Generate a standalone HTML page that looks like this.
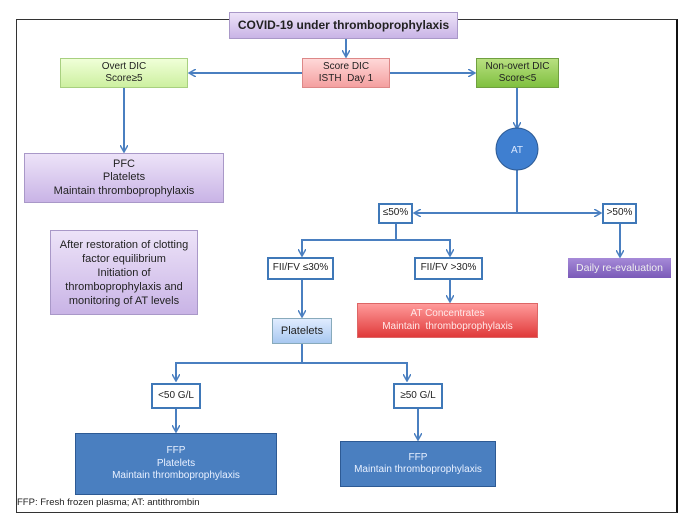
<!DOCTYPE html>
<html><head><style>
body{margin:0;width:690px;height:524px;background:#fff;position:relative;overflow:hidden;font-family:"Liberation Sans",sans-serif;}
.b{position:absolute;box-sizing:border-box;display:flex;align-items:center;justify-content:center;text-align:center;font-size:10px;line-height:12.5px;color:#222;}
.w{border:2px solid #3f78b8;background:#fff;}
.pu{background:linear-gradient(#ede3f8,#c9b4e6);border:1px solid #a998c8;}
.bl{background:#4a7fc0;border:1.5px solid #2d5a94;color:#e8f0ff;}
</style></head><body>
<div style="position:absolute;left:16px;top:19px;width:662px;height:494px;border:1px solid #333;border-right:2px solid #111;box-sizing:border-box"></div>
<svg width="690" height="524" style="position:absolute;left:0;top:0">
<defs><marker id="a" markerWidth="8" markerHeight="8" refX="6" refY="4" orient="auto" markerUnits="userSpaceOnUse"><path d="M0,0 L7,4 L0,8" fill="none" stroke="#4a7fc0" stroke-width="1.5"/></marker></defs>
<g stroke="#4a7fc0" stroke-width="2" fill="none">
<line x1="346" y1="38" x2="346" y2="56" marker-end="url(#a)"/>
<line x1="302" y1="73" x2="190" y2="73" marker-end="url(#a)"/>
<line x1="390" y1="73" x2="474" y2="73" marker-end="url(#a)"/>
<line x1="124" y1="88" x2="124" y2="151" marker-end="url(#a)"/>
<line x1="517" y1="88" x2="517" y2="128" marker-end="url(#a)"/>
<line x1="517" y1="170" x2="517" y2="213"/>
<line x1="517" y1="213" x2="415" y2="213" marker-end="url(#a)"/>
<line x1="517" y1="213" x2="600" y2="213" marker-end="url(#a)"/>
<line x1="620" y1="224" x2="620" y2="256" marker-end="url(#a)"/>
<line x1="396" y1="224" x2="396" y2="240"/>
<polyline points="302,255 302,240 450,240 450,255" marker-end="url(#a)"/>
<line x1="302" y1="240" x2="302" y2="255" marker-end="url(#a)"/>
<line x1="302" y1="280" x2="302" y2="316" marker-end="url(#a)"/>
<line x1="450" y1="280" x2="450" y2="301" marker-end="url(#a)"/>
<line x1="302" y1="344" x2="302" y2="363"/>
<polyline points="176,380 176,363 407,363 407,380" marker-end="url(#a)"/>
<line x1="176" y1="363" x2="176" y2="380" marker-end="url(#a)"/>
<line x1="176" y1="409" x2="176" y2="431" marker-end="url(#a)"/>
<line x1="418" y1="409" x2="418" y2="439" marker-end="url(#a)"/>
</g>
<circle cx="517" cy="149" r="21" fill="#3f7fd0" stroke="#2d5a94"/>
<text x="517" y="153" fill="#dbe8ff" font-size="10" text-anchor="middle" font-family="Liberation Sans">AT</text>
</svg>
<div class="b pu" style="left:229px;top:12px;width:229px;height:27px;font-weight:bold;font-size:12px">COVID-19 under thromboprophylaxis</div>
<div class="b" style="left:60px;top:58px;width:128px;height:30px;background:linear-gradient(#f0ffd8,#cdf0a0);border:1px solid #a8d080">Overt DIC<br>Score≥5</div>
<div class="b" style="left:302px;top:58px;width:88px;height:30px;background:linear-gradient(#ffd8d8,#f4a0a0);border:1px solid #d88">Score DIC<br>ISTH&nbsp; Day 1</div>
<div class="b" style="left:476px;top:58px;width:83px;height:30px;background:linear-gradient(#b8e080,#80c040);border:1px solid #70a040">Non-overt DIC<br>Score&lt;5</div>
<div class="b pu" style="left:24px;top:153px;width:200px;height:50px;font-size:11px;line-height:13.5px">PFC<br>Platelets<br>Maintain thromboprophylaxis</div>
<div class="b pu" style="left:50px;top:230px;width:148px;height:85px;font-size:11px;line-height:14px">After restoration of clotting<br>factor equilibrium<br>Initiation of<br>thromboprophylaxis and<br>monitoring of AT levels</div>
<div class="b w" style="left:378px;top:203px;width:35px;height:21px">≤50%</div>
<div class="b w" style="left:602px;top:203px;width:35px;height:21px">&gt;50%</div>
<div class="b w" style="left:267px;top:257px;width:67px;height:23px">FII/FV ≤30%</div>
<div class="b w" style="left:414px;top:257px;width:69px;height:23px">FII/FV &gt;30%</div>
<div class="b" style="left:568px;top:258px;width:103px;height:20px;background:linear-gradient(#a68ad8,#7a5ab8);color:#eee;font-size:10.5px">Daily re-evaluation</div>
<div class="b" style="left:357px;top:303px;width:181px;height:35px;background:linear-gradient(#ff9a9a,#e03a3a);color:#ffe8e8;border:1px solid #d66">AT Concentrates<br>Maintain&nbsp; thromboprophylaxis</div>
<div class="b" style="left:272px;top:318px;width:60px;height:26px;background:linear-gradient(#e0ecff,#a8c8f0);border:1px solid #8ab;font-size:11px">Platelets</div>
<div class="b w" style="left:151px;top:383px;width:50px;height:26px">&lt;50 G/L</div>
<div class="b w" style="left:393px;top:383px;width:50px;height:26px">≥50 G/L</div>
<div class="b bl" style="left:75px;top:433px;width:202px;height:62px">FFP<br>Platelets<br>Maintain thromboprophylaxis</div>
<div class="b bl" style="left:340px;top:441px;width:156px;height:46px">FFP<br>Maintain thromboprophylaxis</div>
<div style="position:absolute;left:17px;top:497px;font-size:9.5px;color:#222">FFP: Fresh frozen plasma; AT: antithrombin</div>
</body></html>
